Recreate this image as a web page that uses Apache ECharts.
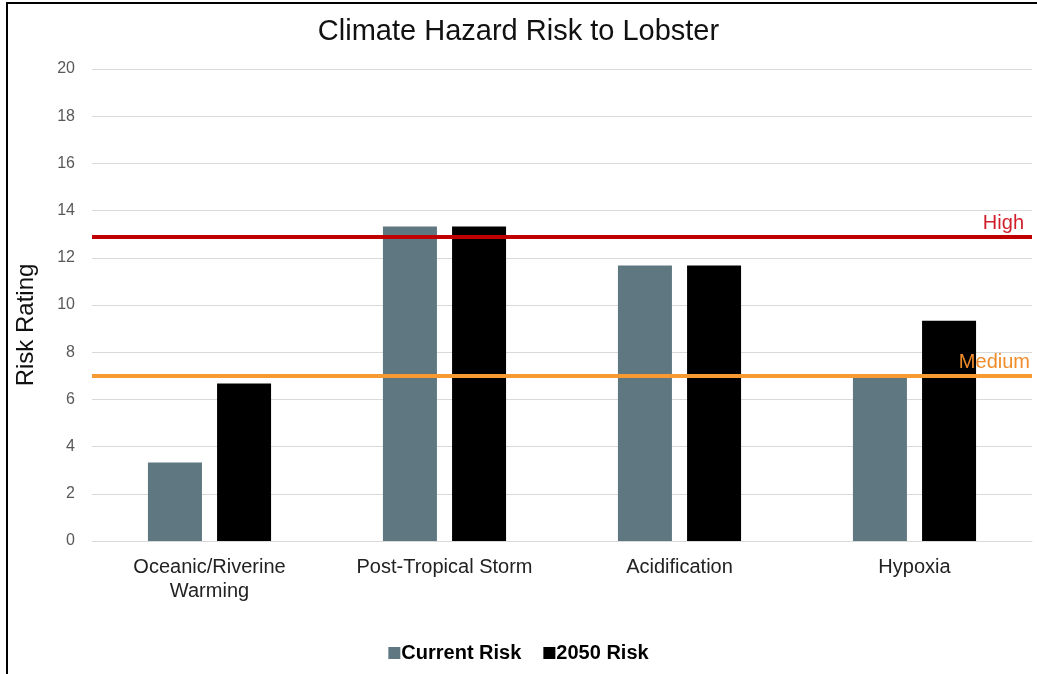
<!DOCTYPE html>
<html>
<head>
<meta charset="utf-8">
<script src="https://cdn.jsdelivr.net/npm/echarts@6/dist/echarts.min.js"></script>
<style>
  html, body { margin: 0; padding: 0; background: #fff; }
  #chart { width: 1037px; height: 674px; }
</style>
</head>
<body>
<div id="chart"></div>
<script>
// Hazard categories and risk ratings
const categories = ['Oceanic/Riverine\nWarming', 'Post-Tropical Storm', 'Acidification', 'Hypoxia'];
const currentRisk = [3.33, 13.33, 11.67, 7];
const risk2050 = [6.67, 13.33, 11.67, 9.33];
// Threshold levels
const highLevel = 12.9;
const mediumLevel = 7;

const FONT = 'Liberation Sans, Arial, sans-serif';

const chart = echarts.init(document.getElementById('chart'));
chart.setOption({
  backgroundColor: '#ffffff',
  animation: false,
  title: {
    text: 'Climate Hazard Risk to Lobster',
    left: 'center',
    top: 12,
    textStyle: { fontFamily: FONT, fontSize: 29, fontWeight: 'normal', color: '#111' }
  },
  graphic: [
    {
      // frame
      type: 'polyline',
      shape: { points: [[7, 680], [7, 3], [1040, 3]] },
      style: { stroke: '#000', lineWidth: 2, fill: null }
    },
    {
      // y-axis title
      type: 'text',
      x: 26,
      y: 325,
      rotation: Math.PI / 2,
      style: { text: 'Risk Rating', fontFamily: FONT, fontSize: 24, fill: '#111', textAlign: 'center', textVerticalAlign: 'middle' }
    }
  ],
  legend: {
    bottom: 6,
    left: 'center',
    itemWidth: 12,
    itemHeight: 12,
    itemGap: 22,
    icon: 'rect',
    textStyle: { fontFamily: FONT, fontSize: 20, fontWeight: 'bold', color: '#000', padding: [0, 0, 0, -4] },
    data: ['Current Risk', '2050 Risk']
  },
  grid: { left: 92, right: 5, top: 69, bottom: 133 },
  xAxis: {
    type: 'category',
    data: categories,
    axisLine: { lineStyle: { color: '#d9d9d9' } },
    axisTick: { show: false },
    axisLabel: { margin: 14, fontFamily: FONT, fontSize: 20, color: '#222', lineHeight: 24 }
  },
  yAxis: {
    type: 'value',
    min: 0,
    max: 20,
    interval: 2,
    axisLine: { show: false },
    axisTick: { show: false },
    axisLabel: { margin: 17, fontFamily: FONT, fontSize: 16, color: '#595959' },
    splitLine: { lineStyle: { color: '#d9d9d9', width: 1 } }
  },
  series: [
    {
      name: 'Current Risk',
      type: 'bar',
      data: currentRisk,
      barWidth: 54,
      barGap: '28%',
      itemStyle: { color: '#5f7780' },
      z: 2
    },
    {
      name: '2050 Risk',
      type: 'bar',
      data: risk2050,
      barWidth: 54,
      itemStyle: { color: '#000000' },
      z: 2,
      markLine: {
        symbol: 'none',
        silent: true,
        z: 5,
        data: [
          {
            yAxis: highLevel,
            lineStyle: { color: '#c00000', width: 4, type: 'solid' },
            label: { show: true, position: 'insideEndTop', formatter: 'High', color: '#d01f2a', fontFamily: FONT, fontSize: 20, distance: [8, 3] }
          },
          {
            yAxis: mediumLevel,
            lineStyle: { color: '#f79a32', width: 4, type: 'solid' },
            label: { show: true, position: 'insideEndTop', formatter: 'Medium', color: '#f08c2a', fontFamily: FONT, fontSize: 20, distance: [2, 3] }
          }
        ]
      }
    }
  ]
});
</script>
</body>
</html>
